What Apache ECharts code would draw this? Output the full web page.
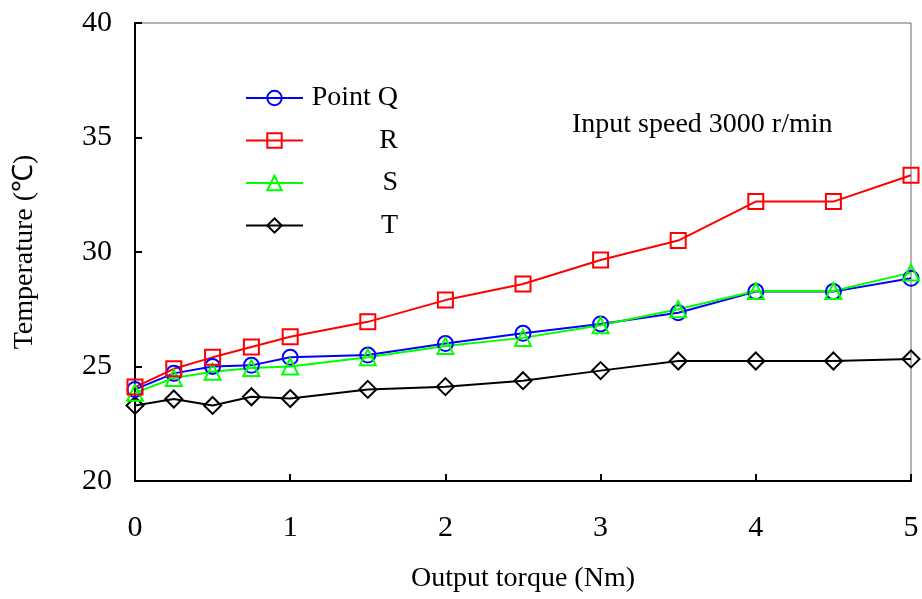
<!DOCTYPE html>
<html>
<head>
<meta charset="utf-8">
<script src="https://cdn.jsdelivr.net/npm/echarts@6/dist/echarts.min.js"></script>
<style>
  html, body { margin: 0; padding: 0; background: #fff; }
  #chart { width: 922px; height: 599px; }
</style>
</head>
<body>
<div id="chart"></div>
<script>
// torque (Nm)
const torque = [0, 0.25, 0.5, 0.75, 1, 1.5, 2, 2.5, 3, 3.5, 4, 4.5, 5]
// temperature (℃) at each point
const pointQ = [24.0, 24.7, 25.0, 25.05, 25.4, 25.5, 26.0, 26.45, 26.86, 27.35, 28.27, 28.27, 28.85]
const pointR = [24.1, 24.9, 25.4, 25.85, 26.3, 26.95, 27.9, 28.6, 29.65, 30.5, 32.2, 32.2, 33.35]
const pointS = [23.85, 24.5, 24.77, 24.93, 25.0, 25.4, 25.9, 26.25, 26.8, 27.5, 28.3, 28.3, 29.1]
const pointT = [23.3, 23.58, 23.3, 23.68, 23.6, 24.0, 24.12, 24.38, 24.82, 25.24, 25.24, 25.24, 25.33]
const seriesNames = ['Point Q', 'R', 'S', 'T']
const xTicks = [0, 1, 2, 3, 4, 5]
const yTicks = [20, 25, 30, 35, 40]

const font = 'Liberation Serif, Times New Roman, serif'

const pair = (ys) => torque.map((x, i) => [x, ys[i]])

const makeSeries = (name, ys, color, symbol, size) => ({
  name,
  type: 'line',
  data: pair(ys),
  symbol,
  symbolSize: size,
  showSymbol: true,
  lineStyle: { color, width: 2 },
  itemStyle: { color: 'rgba(255,255,255,0)', borderColor: color, borderWidth: 2 },
  emphasis: { disabled: true },
  z: 3
})

const chart = echarts.init(document.getElementById('chart'))
chart.setOption({
  animation: false,
  backgroundColor: '#fff',
  grid: {
    left: 135, right: 11, top: 23, bottom: 118,
    outerBoundsMode: 'none',
    containLabel: false,
    show: true, borderColor: '#666', borderWidth: 1
  },
  legend: {
    orient: 'vertical',
    left: 245,
    top: 84,
    padding: 0,
    itemWidth: 57,
    itemHeight: 18,
    itemGap: 14.5,
    data: seriesNames,
    formatter: (n) => '{a|' + n + '}',
    textStyle: {
      fontFamily: font,
      fontSize: 28,
      color: '#000',
      rich: { a: { width: 90, align: 'right', fontFamily: font, fontSize: 28, lineHeight: 28 } }
    }
  },
  xAxis: {
    type: 'value',
    min: xTicks[0],
    max: xTicks[xTicks.length - 1],
    interval: 1,
    name: 'Output torque (Nm)',
    nameLocation: 'middle',
    nameGap: 84,
    nameTextStyle: { fontFamily: font, fontSize: 28, color: '#000' },
    axisLine: { lineStyle: { color: '#000', width: 2 } },
    axisTick: { inside: true, length: 7, lineStyle: { color: '#000', width: 2 } },
    axisLabel: { margin: 32, fontFamily: font, fontSize: 30, color: '#000' },
    splitLine: { show: false }
  },
  yAxis: {
    type: 'value',
    min: yTicks[0],
    max: yTicks[yTicks.length - 1],
    interval: 5,
    name: 'Temperature (℃)',
    nameLocation: 'middle',
    nameGap: 96,
    nameTextStyle: { fontFamily: font, fontSize: 28, color: '#000' },
    axisLine: { lineStyle: { color: '#000', width: 2 } },
    axisTick: { inside: true, length: 7, lineStyle: { color: '#000', width: 2 } },
    axisLabel: { margin: 23, fontFamily: font, fontSize: 30, color: '#000' },
    splitLine: { show: false }
  },
  graphic: [{
    type: 'text',
    left: 572,
    top: 111,
    style: { text: 'Input speed 3000 r/min', fontFamily: font, fontSize: 28, fill: '#000' }
  }],
  series: [
    makeSeries('T', pointT, '#000000', 'diamond', 17),
    makeSeries('Point Q', pointQ, '#0000ff', 'circle', 15),
    makeSeries('S', pointS, '#00ff00', 'triangle', 16),
    makeSeries('R', pointR, '#ff0000', 'rect', 15)
  ]
})
</script>
</body>
</html>
